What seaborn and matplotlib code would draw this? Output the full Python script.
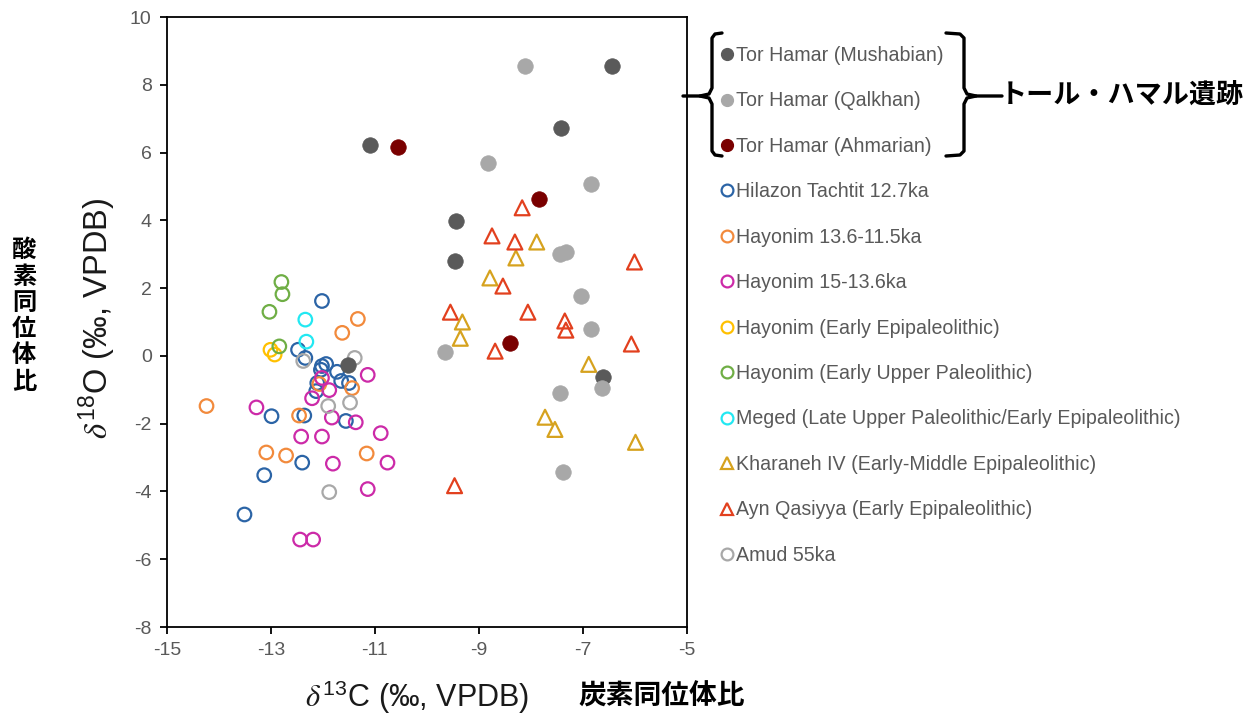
import matplotlib
matplotlib.use("Agg")
import matplotlib.pyplot as plt
import seaborn as sns
import pandas as pd
from matplotlib.lines import Line2D

# ---------------- data ----------------
mushabian_x = [-6.45, -7.43, -11.10, -9.44, -9.47, -11.52, -6.61]
mushabian_y = [8.55, 6.72, 6.22, 3.97, 2.80, -0.28, -0.62]
qalkhan_x = [-8.12, -8.82, -6.84, -7.45, -7.33, -7.03, -6.84, -9.65, -7.45, -6.63, -7.39]
qalkhan_y = [8.55, 5.70, 5.06, 3.00, 3.08, 1.77, 0.78, 0.12, -1.10, -0.95, -3.44]
ahmarian_x = [-10.56, -7.85, -8.40]
ahmarian_y = [6.15, 4.62, 0.38]
hilazon_x = [-12.02, -12.48, -12.34, -12.02, -11.94, -11.73, -12.04, -11.65, -11.50,
             -12.11, -12.13, -12.99, -12.36, -11.56, -12.40, -13.13, -13.51]
hilazon_y = [1.62, 0.18, -0.06, -0.30, -0.24, -0.47, -0.41, -0.74, -0.80,
             -0.80, -1.04, -1.78, -1.76, -1.92, -3.15, -3.52, -4.68]
hay_136_115_x = [-11.33, -11.63, -12.07, -11.44, -14.24, -12.46, -13.09, -12.71, -11.16]
hay_136_115_y = [1.09, 0.68, -0.83, -0.95, -1.48, -1.76, -2.85, -2.94, -2.88]
hay_15_136_x = [-11.14, -12.02, -11.88, -12.21, -13.28, -11.83, -11.37, -12.42, -12.02,
                -10.89, -11.81, -10.76, -11.14, -12.44, -12.19]
hay_15_136_y = [-0.56, -0.65, -1.01, -1.25, -1.52, -1.82, -1.96, -2.38, -2.38,
                -2.28, -3.18, -3.15, -3.93, -5.42, -5.42]
hay_ee_x = [-13.01, -12.93]
hay_ee_y = [0.18, 0.04]
hay_eup_x = [-12.80, -12.78, -13.03, -12.84]
hay_eup_y = [2.18, 1.82, 1.30, 0.28]
meged_x = [-12.34, -12.32]
meged_y = [1.07, 0.42]
kharaneh_x = [-7.89, -8.29, -8.79, -9.32, -9.36, -6.89, -7.73, -7.54, -5.99]
kharaneh_y = [3.36, 2.89, 2.30, 1.00, 0.52, -0.25, -1.81, -2.17, -2.55]
ayn_x = [-8.17, -8.75, -8.31, -6.01, -8.54, -9.55, -8.06, -7.35, -7.33, -6.07, -8.69, -9.47]
ayn_y = [4.37, 3.54, 3.36, 2.77, 2.06, 1.29, 1.29, 1.03, 0.76, 0.35, 0.14, -3.83]
amud_x = [-12.38, -11.39, -11.90, -11.48, -11.88]
amud_y = [-0.15, -0.06, -1.48, -1.38, -4.02]

labels = ["Tor Hamar (Mushabian)", "Tor Hamar (Qalkhan)", "Tor Hamar (Ahmarian)",
          "Hilazon Tachtit 12.7ka", "Hayonim 13.6-11.5ka", "Hayonim 15-13.6ka",
          "Hayonim (Early Epipaleolithic)", "Hayonim (Early Upper Paleolithic)",
          "Meged (Late Upper Paleolithic/Early Epipaleolithic)",
          "Kharaneh IV (Early-Middle Epipaleolithic)", "Ayn Qasiyya (Early Epipaleolithic)",
          "Amud 55ka"]

x_ticks = [-15, -13, -11, -9, -7, -5]
y_ticks = [-8, -6, -4, -2, 0, 2, 4, 6, 8, 10]

# ---------------- style ----------------
sns.set_theme(style="white")
plt.rcParams['font.family'] = ['Liberation Sans', 'Noto Sans CJK JP', 'DejaVu Sans']
plt.rcParams['mathtext.fontset'] = 'stix'

groups = [
    (mushabian_x, mushabian_y, "#5a5a5a", "o", True),
    (qalkhan_x, qalkhan_y, "#a8a8a8", "o", True),
    (ahmarian_x, ahmarian_y, "#7a0000", "o", True),
    (hilazon_x, hilazon_y, "#2b64a6", "o", False),
    (hay_136_115_x, hay_136_115_y, "#f28a3c", "o", False),
    (hay_15_136_x, hay_15_136_y, "#cc2aa8", "o", False),
    (hay_ee_x, hay_ee_y, "#ffc000", "o", False),
    (hay_eup_x, hay_eup_y, "#6fae45", "o", False),
    (meged_x, meged_y, "#22e8f2", "o", False),
    (kharaneh_x, kharaneh_y, "#d6a21e", "^", False),
    (ayn_x, ayn_y, "#e2401e", "^", False),
    (amud_x, amud_y, "#a8a8a8", "o", False),
]

W, H = 1254, 717
fig = plt.figure(figsize=(W / 100, H / 100), dpi=100)
ax = fig.add_axes([167 / W, 1 - 627 / H, (687 - 167) / W, (627 - 17) / H])

for (xs, ys, col, mk, filled), lab in zip(groups, labels):
    df = pd.DataFrame({"x": xs, "y": ys})
    if filled:
        sns.scatterplot(data=df, x="x", y="y", ax=ax, marker=mk, s=125,
                        color=col, edgecolor=col, linewidth=0.5, label=lab, zorder=3)
    else:
        sns.scatterplot(data=df, x="x", y="y", ax=ax, marker=mk,
                        s=115 if mk == "^" else 95,
                        facecolors="none", edgecolor=col, linewidth=1.6,
                        label=lab, zorder=2)

ax.set_xlim(-15, -5)
ax.set_ylim(-8, 10)
ax.set_xticks(x_ticks)
ax.set_yticks(y_ticks)
ax.set_xticklabels([str(t) for t in x_ticks])
ax.set_yticklabels([str(t) for t in y_ticks])
ax.tick_params(axis="both", which="major", direction="out", length=5, width=1.3,
               color="black", labelsize=14, labelcolor="#595959", pad=6,
               bottom=True, left=True)
for sp in ax.spines.values():
    sp.set_color("black")
    sp.set_linewidth(1.3)
ax.set_xlabel("")
ax.set_ylabel("")
if ax.get_legend():
    ax.get_legend().remove()

# legend
handles = []
for (xs, ys, col, mk, filled) in groups:
    if filled:
        handles.append(Line2D([], [], linestyle="none", marker="o", markersize=8.5,
                              markerfacecolor=col, markeredgecolor=col))
    else:
        handles.append(Line2D([], [], linestyle="none", marker=mk, markersize=8.5,
                              markerfacecolor="none", markeredgecolor=col,
                              markeredgewidth=1.6))
fig.legend(handles, labels, loc="upper left", bbox_to_anchor=(721 / W, 1 - 46 / H),
           frameon=False, fontsize=14.1, labelcolor="#595959", handlelength=0.6,
           handletextpad=0.15, labelspacing=1.35, borderpad=0, borderaxespad=0)

# braces around Tor Hamar entries
def brace(points):
    xs = [p[0] / W for p in points]
    ys = [1 - p[1] / H for p in points]
    fig.add_artist(Line2D(xs, ys, transform=fig.transFigure, color="black",
                          linewidth=2.4, solid_joinstyle="round", solid_capstyle="round"))

brace([(722, 33), (715, 34), (712, 38), (712, 88), (709, 94), (700, 96), (683, 96)])
brace([(700, 96), (709, 98), (712, 104), (712, 151), (715, 155), (722, 156)])
brace([(946, 33), (960, 34), (964, 38), (964, 88), (967, 94), (976, 96), (1002, 96)])
brace([(976, 96), (967, 98), (964, 104), (964, 151), (960, 155), (946, 156)])

fig.text(1000 / W, 1 - 96 / H, "トール・ハマル遺跡", fontsize=19.5, fontweight="bold",
         family=["Noto Sans CJK JP"], va="center", ha="left", color="black")

# axis labels
fig.text(97 / W, 1 - 318 / H, r"$\delta^{\mathregular{18}}$O (‰, VPDB)", rotation=90,
         fontsize=23.5, va="center", ha="center", color="#1a1a1a")
fig.text(24 / W, 1 - 316 / H, "\n".join("酸素同位体比"), fontsize=17.5, fontweight="bold",
         family=["Noto Sans CJK JP"], va="center", ha="center", linespacing=1.12,
         color="black")
fig.text(305 / W, 1 - 697 / H, r"$\delta^{\mathregular{13}}$C (‰, VPDB)", fontsize=22,
         va="center", ha="left", color="#1a1a1a")
fig.text(578 / W, 1 - 697 / H, "炭素同位体比", fontsize=20, fontweight="bold",
         family=["Noto Sans CJK JP"], va="center", ha="left", color="black")

fig.savefig("out.png", dpi=100, facecolor="white")
